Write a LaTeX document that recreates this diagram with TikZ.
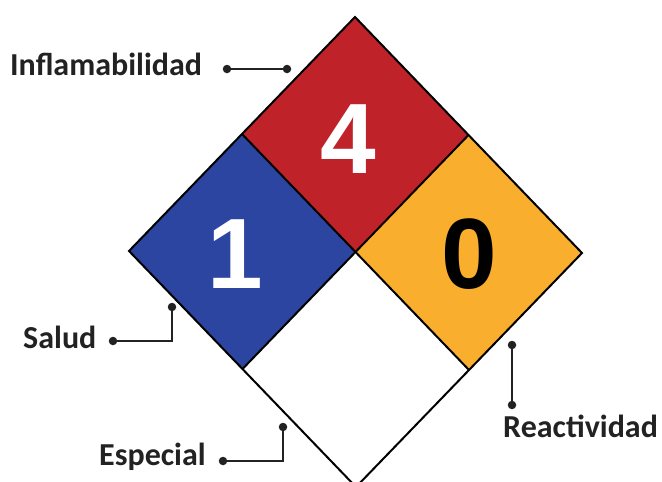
\documentclass[tikz,border=0pt]{standalone}
\usepackage{fontspec}
\usetikzlibrary{calc}
\setmainfont{Carlito}
\newfontfamily\numfont{Liberation Sans}
\definecolor{nfpared}{HTML}{C0222A}
\definecolor{nfpablue}{HTML}{2B45A0}
\definecolor{nfpaorange}{HTML}{F9AE2D}
\definecolor{leadc}{HTML}{222222}
\begin{document}
\begin{tikzpicture}[x=1pt,y=-1pt,
  quad/.style={draw=black,line width=2pt,line join=miter},
  num/.style={font=\numfont\bfseries\fontsize{100}{100}\selectfont,anchor=base,inner sep=0pt},
  lbl/.style={font=\bfseries\fontsize{32}{32}\selectfont,text=leadc,inner sep=0pt},
  lead/.style={draw=leadc,line width=2.6pt},
  dot/.style={circle,fill=leadc,inner sep=0pt,minimum size=8.5pt}]
\useasboundingbox (0,0) rectangle (662,482);
% diamond points
\coordinate (T) at (355,17);
\coordinate (L) at (129,251);
\coordinate (R) at (582,253);
\coordinate (B) at (356,487);
\coordinate (C) at (355,252);
\coordinate (TL) at ($(T)!0.5!(L)$);
\coordinate (TR) at ($(T)!0.5!(R)$);
\coordinate (BL) at ($(B)!0.5!(L)$);
\coordinate (BR) at ($(B)!0.5!(R)$);
% quadrants
\fill[nfpared] (T) -- (TR) -- (C) -- (TL) -- cycle;
\fill[nfpablue] (TL) -- (C) -- (BL) -- (L) -- cycle;
\fill[nfpaorange] (TR) -- (R) -- (BR) -- (C) -- cycle;
\fill[white] (C) -- (BR) -- (B) -- (BL) -- cycle;
\draw[quad] (T) -- (R) -- (B) -- (L) -- cycle;
\draw[quad] (TL) -- (BR);
\draw[quad] (TR) -- (BL);
% numbers
\node[num,text=white] (n4) at (348.5,173) {4};
\node[num,text=white] (n1) at (235,288) {1};
\node[num,text=black] (n0) at (469,288) {0};
% labels
\node[lbl,anchor=base west] (inf) at (10,75) {Inflamabilidad};
\node[lbl,anchor=base west] (sal) at (23,348) {Salud};
\node[lbl,anchor=base west] (esp) at (99,465) {Especial};
\node[lbl,anchor=base west] (rea) at (503,437) {Reactividad};
% leader lines
\node[dot] (i1) at (227,69) {};
\node[dot] (i2) at (287,69) {};
\draw[lead] (i1.center) -- (i2.center);
\node[dot] (s1) at (113,341) {};
\node[dot] (s2) at (172,307) {};
\draw[lead] (s1.center) -| (s2.center);
\node[dot] (e1) at (223,461) {};
\node[dot] (e2) at (283,427) {};
\draw[lead] (e1.center) -| (e2.center);
\node[dot] (r1) at (512,345) {};
\node[dot] (r2) at (512,405) {};
\draw[lead] (r1.center) -- (r2.center);
\end{tikzpicture}
\end{document}
